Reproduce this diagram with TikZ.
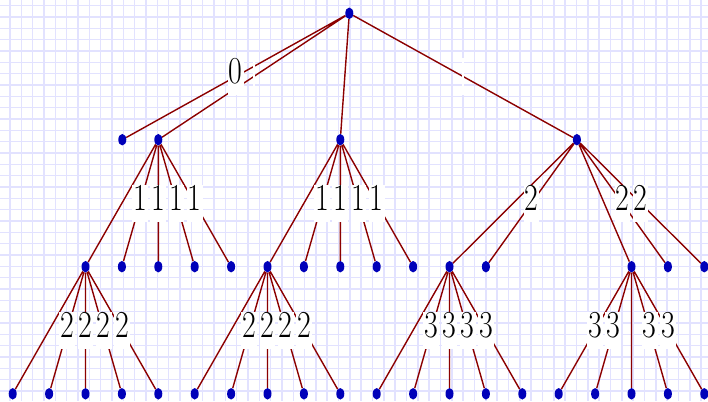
\documentclass[tikz,border=0pt]{standalone}
\usepackage{fontspec}
\usepackage{graphicx}
\usetikzlibrary{shapes.geometric}
\definecolor{gridcol}{RGB}{226,226,255}
\definecolor{edgecol}{RGB}{140,0,0}
\definecolor{dotcol}{RGB}{0,0,185}
\pgfdeclarelayer{paper}
\pgfdeclarelayer{edges}
\pgfsetlayers{paper,edges,main}
% narrow, tall digits for the branch labels
\newcommand\tallfig[1]{\scalebox{0.88}[1.12]{#1}}
\tikzset{
  gridline/.style={draw=gridcol, line width=1.5pt},
  dot/.style={ellipse, fill=dotcol, draw=none, inner sep=0pt,
              minimum width=8pt, minimum height=11.5pt},
  branch/.style={draw=edgecol, line width=1.4pt},
  lbl/.style={fill=white, inner xsep=1pt, inner ysep=0pt,
              text height=26pt, text depth=11pt,
              font=\fontsize{34}{40}\selectfont},
}
\begin{document}
\begin{tikzpicture}[x=1pt,y=-1pt]
\useasboundingbox (0,0) rectangle (708,401);

% squared paper
\begin{pgfonlayer}{paper}
  \fill[white] (0,0) rectangle (708,401);
  \foreach \i in {0,...,61}
    \draw[gridline] ({10+\i*11.33},0) -- ({10+\i*11.33},401);
  \foreach \j in {0,...,34}
    \draw[gridline] (0,{5.7+\j*11.33}) -- (708,{5.7+\j*11.33});
\end{pgfonlayer}

% vertices
\node[dot] (r) at (349.3,13.3) {};

\node[dot] (a1) at (122.3,139.7) {};
\node[dot] (a2) at (158.3,139.7) {};
\node[dot] (a3) at (340.3,139.7) {};
\node[dot] (a4) at (576.9,139.7) {};

\foreach \n/\x in {b1/85.5,b2/121.9,b3/158.3,b4/194.7,b5/231.1,
                   c1/267.5,c2/303.9,c3/340.3,c4/376.7,c5/413.1,
                   d1/449.5,d2/485.9,d3/631.5,d4/667.9,d5/704.3}
  \node[dot] (\n) at (\x,266.7) {};

\foreach \n/\x in {e1/12.7,e2/49.1,e3/85.5,e4/121.9,e5/158.3,
                   f1/194.7,f2/231.1,f3/267.5,f4/303.9,f5/340.3,
                   g1/376.7,g2/413.1,g3/449.5,g4/485.9,g5/522.3,
                   h1/558.7,h2/595.1,h3/631.5,h4/667.9,h5/704.3}
  \node[dot] (\n) at (\x,393.8) {};

% branches with their labels
\begin{pgfonlayer}{edges}
  \path[branch] (r) -- node[lbl]{\tallfig{0}} (a1)
                (r) -- node[lbl]{} (a2)
                (r) -- (a3)
                (r) -- node[lbl]{} (a4);

  \path[branch] (a2) -- (b1)
                (a2) -- node[lbl]{\tallfig{1}} (b2)
                (a2) -- node[lbl]{\tallfig{1}} (b3)
                (a2) -- node[lbl]{\tallfig{1}} (b4)
                (a2) -- node[lbl]{\tallfig{1}} (b5);

  \path[branch] (a3) -- (c1)
                (a3) -- node[lbl]{\tallfig{1}} (c2)
                (a3) -- node[lbl]{\tallfig{1}} (c3)
                (a3) -- node[lbl]{\tallfig{1}} (c4)
                (a3) -- node[lbl]{\tallfig{1}} (c5);

  \path[branch] (a4) -- (d1)
                (a4) -- node[lbl]{\tallfig{2}} (d2)
                (a4) -- (d3)
                (a4) -- node[lbl]{\tallfig{2}} (d4)
                (a4) -- node[lbl]{\tallfig{2}} (d5);

  \path[branch] (b1) -- (e1)
                (b1) -- node[lbl]{\tallfig{2}} (e2)
                (b1) -- node[lbl]{\tallfig{2}} (e3)
                (b1) -- node[lbl]{\tallfig{2}} (e4)
                (b1) -- node[lbl]{\tallfig{2}} (e5);

  \path[branch] (c1) -- (f1)
                (c1) -- node[lbl]{\tallfig{2}} (f2)
                (c1) -- node[lbl]{\tallfig{2}} (f3)
                (c1) -- node[lbl]{\tallfig{2}} (f4)
                (c1) -- node[lbl]{\tallfig{2}} (f5);

  \path[branch] (d1) -- (g1)
                (d1) -- node[lbl]{\tallfig{3}} (g2)
                (d1) -- node[lbl]{\tallfig{3}} (g3)
                (d1) -- node[lbl]{\tallfig{3}} (g4)
                (d1) -- node[lbl]{\tallfig{3}} (g5);

  \path[branch] (d3) -- node[lbl]{\tallfig{3}} (h1)
                (d3) -- node[lbl]{\tallfig{3}} (h2)
                (d3) -- (h3)
                (d3) -- node[lbl]{\tallfig{3}} (h4)
                (d3) -- node[lbl]{\tallfig{3}} (h5);
\end{pgfonlayer}
\end{tikzpicture}
\end{document}
